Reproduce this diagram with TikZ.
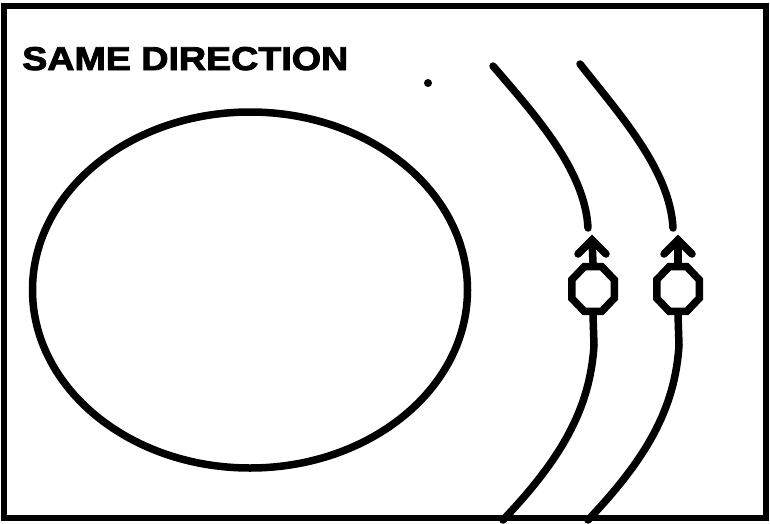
\documentclass[tikz,border=0pt]{standalone}
\usepackage{fontspec}
\setmainfont{Liberation Sans}
\newfontfamily\heavyfont[FakeBold=2.5]{Liberation Sans Bold}
\usetikzlibrary{shapes.geometric,arrows.meta}
\tikzset{
  thick line/.style={line width=7.5pt, line cap=round, line join=round},
  octa/.style={regular polygon, regular polygon sides=8, draw, line width=7.5pt, minimum size=46pt, inner sep=0pt},
  headline/.style={line width=7.5pt, line cap=round, line join=miter},
}
\begin{document}
\begin{tikzpicture}[x=1pt,y=-1pt]
\useasboundingbox (0,0) rectangle (770,523);
\fill[white] (0,0) rectangle (770,523);
\draw[line width=6pt] (4,6) rectangle (766,518);
\node[anchor=base west, font=\heavyfont\fontsize{33}{33}\selectfont, xscale=1.14, inner sep=0pt] (title) at (22,70) {SAME DIRECTION};
\fill (428,83) circle (4);
% large circle
\node[ellipse, draw, thick line, minimum width=435pt, minimum height=356pt, inner sep=0pt] (planet) at (250,290) {};
% particles
\node[octa, yscale=1.05] (o1) at (593,289) {};
\node[octa, yscale=1.05] (o2) at (678,289) {};
% arrows (shaft + chevron head)
\coordinate (a1) at (592,240);
\coordinate (a2) at (678,240);
\draw[headline] (o1.north) -- (a1);
\draw[headline] (o2.north) -- (a2);
\draw[headline] ([xshift=-14pt,yshift=-14pt]a1) -- (a1) -- ([xshift=14pt,yshift=-14pt]a1);
\draw[headline] ([xshift=-14pt,yshift=-14pt]a2) -- (a2) -- ([xshift=14pt,yshift=-14pt]a2);
% upper trajectories
\coordinate (u1s) at (493,66);
\coordinate (u1e) at (588,228);
\coordinate (u2s) at (580,64);
\coordinate (u2e) at (673,228);
\draw[thick line] (u1s) .. controls (535,115) and (585,170) .. (u1e);
\draw[thick line] (u2s) .. controls (620,115) and (670,170) .. (u2e);
% lower trajectories
\coordinate (l1e) at (503,520);
\coordinate (l2e) at (588,520);
\draw[thick line] (o1.south) -- (594,345) .. controls (590,410) and (560,460) .. (l1e);
\draw[thick line] (o2.south) -- (679,345) .. controls (675,410) and (645,460) .. (l2e);
\end{tikzpicture}
\end{document}
